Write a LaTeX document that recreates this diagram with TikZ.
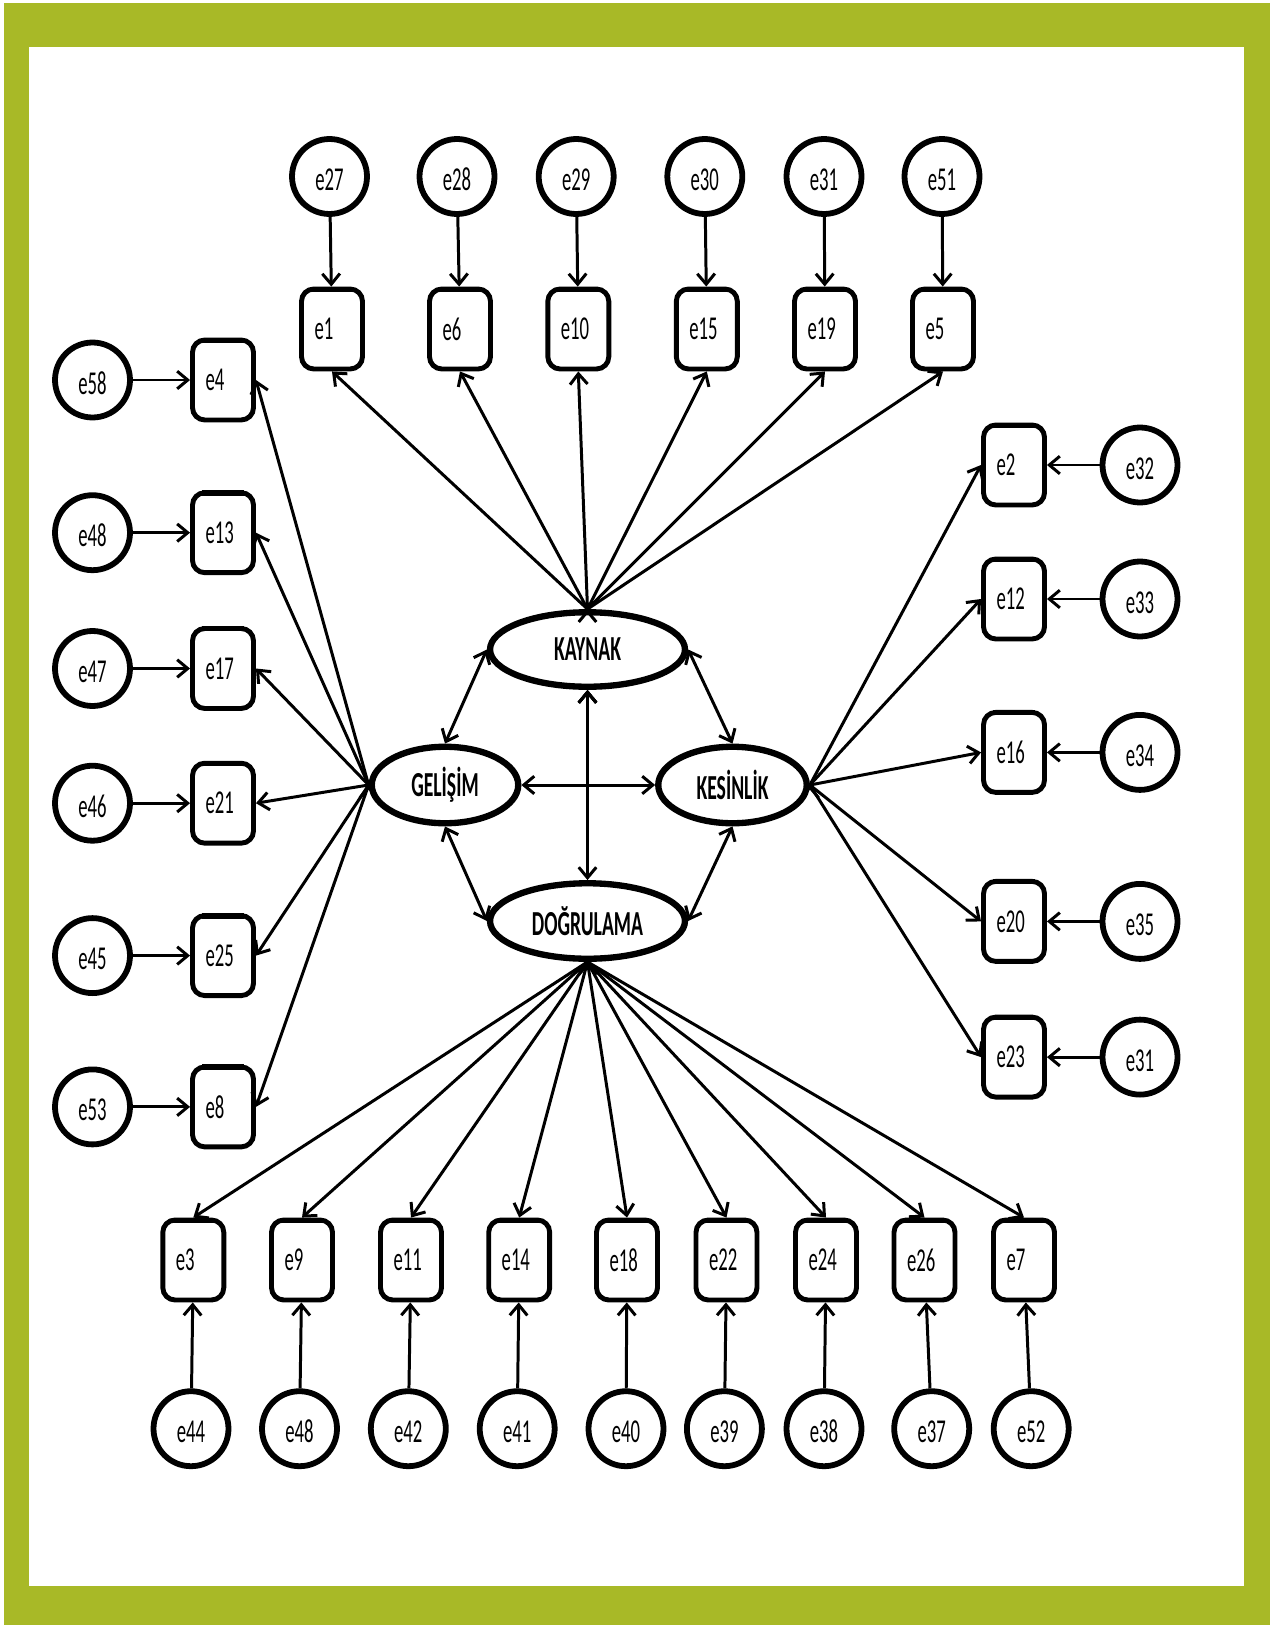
\documentclass[tikz,border=0pt]{standalone}
\usepackage{fontspec}
\setmainfont{Carlito}[FakeStretch=0.56]
\usetikzlibrary{arrows.meta,shapes.geometric}
\definecolor{cadre}{RGB}{168,185,39}

\tikzset{
  obs/.style={draw,line width=2.8pt,rounded corners=7pt,minimum width=1.22cm,minimum height=1.6cm,
    inner xsep=0.26cm,text width=0.7cm,align=left,
    append after command={\pgfextra{\draw[line width=3.1pt]
      ([shift={(12,2.7)}]\tikzlastnode.north west) -- ([shift={(-12,2.7)}]\tikzlastnode.north east);}}},
  err/.style={draw,circle,line width=3.3pt,minimum size=1.5cm,inner sep=0pt,text height=16pt,text depth=0pt},
  lat/.style={draw,ellipse,line width=3.6pt,inner sep=0pt,font=\fontsize{20}{23}\selectfont\bfseries},
  lien/.style={line width=1.7pt,>={Straight Barb[length=6pt,width=10pt]}}
}

\begin{document}
\begin{tikzpicture}[x=0.02cm,y=-0.02cm,font=\fontsize{19}{22}\selectfont]
        % cadre
        \useasboundingbox (0,0) rectangle (1280,1625);
        \fill[white] (0,0) rectangle (1280,1625);
        \fill[cadre] (4,3) rectangle (1270,1625);
        \fill[white] (29,47) rectangle (1244,1586);

        % facteurs
        \node[lat,minimum width=3.9cm,minimum height=1.49cm] (Kayn) at (587.5,649.5) {KAYNAK};
        \node[lat,minimum width=2.93cm,minimum height=1.53cm] (Geli) at (445,785) {GELİŞİM};
        \node[lat,minimum width=2.97cm,minimum height=1.53cm] (Kesi) at (732.5,785) {KESİNLİK};
        \node[lat,minimum width=3.9cm,minimum height=1.51cm] (Dogr) at (587.5,921) {DOĞRULAMA};

        % haut : KAYNAK
        \node[obs] (Ind1) at (332,329) {e1};
        \node[obs] (Ind6) at (460,329) {e6};
        \node[obs] (Ind10) at (578.3,329) {e10};
        \node[obs] (Ind15) at (706.8,329) {e15};
        \node[obs] (Ind19) at (825,329) {e19};
        \node[obs] (Ind5) at (943,329) {e5};
        \node[err] (Err1) at (329.5,176.5) {e27};
        \node[err] (Err6) at (457,176.5) {e28};
        \node[err] (Err10) at (576.2,176.5) {e29};
        \node[err] (Err15) at (704.8,176.5) {e30};
        \node[err] (Err19) at (824,176.5) {e31};
        \node[err] (Err5) at (942,176.5) {e51};

        % gauche : GELISIM
        \node[obs] (Ind4) at (223,380) {e4};
        \node[obs] (Ind13) at (223,532.7) {e13};
        \node[obs] (Ind17) at (223,668.5) {e17};
        \node[obs] (Ind21) at (223,803.2) {e21};
        \node[obs] (Ind25) at (223,955.6) {e25};
        \node[obs] (Ind8) at (223,1106.9) {e8};
        \node[err] (Err4) at (92.5,380) {e58};
        \node[err] (Err13) at (92.5,532.7) {e48};
        \node[err] (Err17) at (92.5,668.5) {e47};
        \node[err] (Err21) at (92.5,803.2) {e46};
        \node[err] (Err25) at (92.5,955.6) {e45};
        \node[err] (Err8) at (92.5,1106.9) {e53};

        % droite : KESINLIK
        \node[obs] (Ind2) at (1014,465) {e2};
        \node[obs] (Ind12) at (1014,599) {e12};
        \node[obs] (Ind16) at (1014,752.4) {e16};
        \node[obs] (Ind20) at (1014,921.4) {e20};
        \node[obs] (Ind23) at (1014,1057.1) {e23};
        \node[err] (Err2) at (1140,465) {e32};
        \node[err] (Err12) at (1140,599) {e33};
        \node[err] (Err16) at (1140,752.4) {e34};
        \node[err] (Err20) at (1140,921.4) {e35};
        \node[err] (Err23) at (1140,1057.1) {e31};

        % bas : DOGRULAMA
        \node[obs] (Ind3) at (193.3,1260) {e3};
        \node[obs] (Ind9) at (302,1260) {e9};
        \node[obs] (Ind11) at (411,1260) {e11};
        \node[obs] (Ind14) at (519.2,1260) {e14};
        \node[obs] (Ind18) at (627,1260) {e18};
        \node[obs] (Ind22) at (726.5,1260) {e22};
        \node[obs] (Ind24) at (826,1260) {e24};
        \node[obs] (Ind26) at (924.5,1260) {e26};
        \node[obs] (Ind7) at (1024,1260) {e7};
        \node[err] (Err3) at (191,1428.7) {e44};
        \node[err] (Err9) at (299.5,1428.7) {e48};
        \node[err] (Err11) at (408.3,1428.7) {e42};
        \node[err] (Err14) at (517.2,1428.7) {e41};
        \node[err] (Err18) at (626,1428.7) {e40};
        \node[err] (Err22) at (724.4,1428.7) {e39};
        \node[err] (Err24) at (824,1428.7) {e38};
        \node[err] (Err26) at (931.7,1428.7) {e37};
        \node[err] (Err7) at (1031.2,1428.7) {e52};

        % saturations
        \draw[lien,->] (Kayn.north) edge (Ind1.south) edge (Ind6.south) edge (Ind10.south)
          edge (Ind15.south) edge (Ind19.south) edge (Ind5.south);
        \draw[lien,->] (Geli.west) edge (Ind4.east) edge (Ind13.east) edge (Ind17.east)
          edge (Ind21.east) edge (Ind25.east) edge (Ind8.east);
        \draw[lien,->] (Kesi.east) edge (Ind2.west) edge (Ind12.west) edge (Ind16.west)
          edge (Ind20.west) edge (Ind23.west);
        \draw[lien,->] (Dogr.south) edge (Ind3.north) edge (Ind9.north) edge (Ind11.north)
          edge (Ind14.north) edge (Ind18.north) edge (Ind22.north) edge (Ind24.north)
          edge (Ind26.north) edge (Ind7.north);

        % erreurs
        \draw[lien,->] (Err1) edge (Ind1) (Err6) edge (Ind6) (Err10) edge (Ind10)
          (Err15) edge (Ind15) (Err19) edge (Ind19) (Err5) edge (Ind5);
        \draw[lien,->] (Err4) edge (Ind4) (Err13) edge (Ind13) (Err17) edge (Ind17)
          (Err21) edge (Ind21) (Err25) edge (Ind25) (Err8) edge (Ind8);
        \draw[lien,->] (Err2) edge (Ind2) (Err12) edge (Ind12) (Err16) edge (Ind16)
          (Err20) edge (Ind20) (Err23) edge (Ind23);
        \draw[lien,->] (Err3) edge (Ind3) (Err9) edge (Ind9) (Err11) edge (Ind11)
          (Err14) edge (Ind14) (Err18) edge (Ind18) (Err22) edge (Ind22)
          (Err24) edge (Ind24) (Err26) edge (Ind26) (Err7) edge (Ind7);

        % covariances
        \draw[lien,<->] (Kayn.west) edge (Geli.north) (Kayn.east) edge (Kesi.north)
          (Geli.south) edge (Dogr.west) (Kesi.south) edge (Dogr.east)
          (Geli.east) edge (Kesi.west) (Kayn.south) edge (Dogr.north);
\end{tikzpicture}
\end{document}
